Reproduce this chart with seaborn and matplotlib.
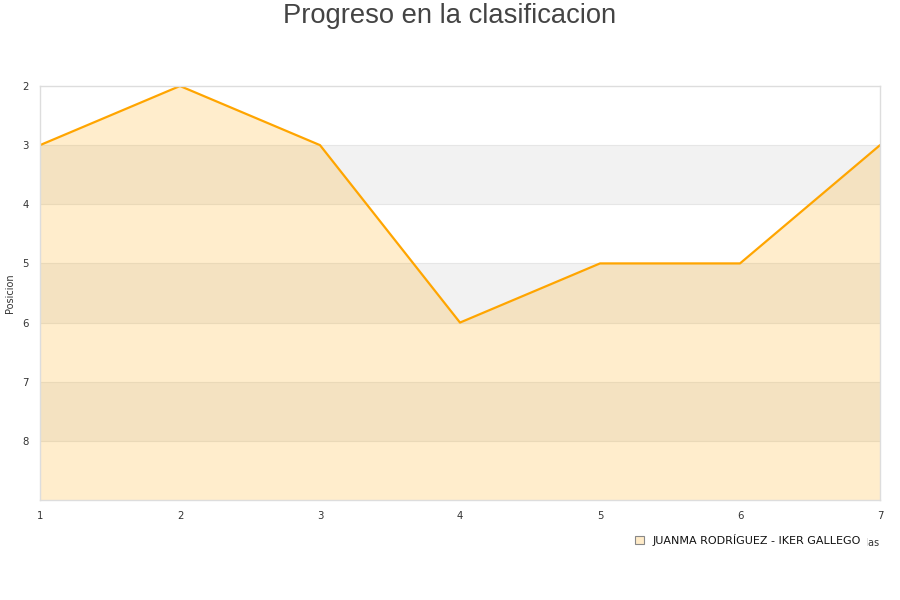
import matplotlib
matplotlib.use("Agg")
import matplotlib.pyplot as plt
import seaborn as sns
import pandas as pd
from matplotlib.patches import Patch

title = "Progreso en la clasificacion"
team = "JUANMA RODRÍGUEZ - IKER GALLEGO"
x_label = "Jornadas"
y_label = "Posicion"
jornadas = [1, 2, 3, 4, 5, 6, 7]
posiciones = [3, 2, 3, 6, 5, 5, 3]
y_ticks = [2, 3, 4, 5, 6, 7, 8]
y_min, y_max = 2, 9

df = pd.DataFrame({"Jornada": jornadas, "Posicion": posiciones})

sns.set_theme(style="white")
plt.rcParams['font.family'] = ['DejaVu Sans']

fig = plt.figure(figsize=(9, 6), dpi=100)
ax = fig.add_axes([40/900, 1-500/600, 840/900, 414/600])

# alternating bands
for lo in range(y_min, y_max):
    if (lo - y_min) % 2 == 1:
        ax.axhspan(lo, lo + 1, color="#F2F2F2", zorder=0, lw=0)
for v in range(y_min + 1, y_max):
    ax.axhline(v, color="#E6E6E6", lw=0.8, zorder=0.5)

ax.fill_between(df["Jornada"], df["Posicion"], y_max, color="#FFA500", alpha=0.2, lw=0, zorder=1)
sns.lineplot(data=df, x="Jornada", y="Posicion", ax=ax, color="#FFA500", lw=1.6, zorder=2)

ax.set_xlim(1, 7)
ax.set_ylim(y_max, y_min)
ax.set_xticks(jornadas)
ax.set_yticks(y_ticks)
ax.tick_params(axis="both", labelsize=7.3, colors="#333333", length=0, pad=8)
for s in ax.spines.values():
    s.set_color("#DDDDDD")
    s.set_linewidth(1)

ax.set_ylabel(y_label, fontsize=7, color="#333333", labelpad=5)
ax.set_xlabel(x_label, fontsize=7, color="#333333", loc="right", labelpad=12)

fig.text(0.5, 1-16/600, title, fontsize=19.7, color="#444444", ha="center", va="center",
         family=["Liberation Sans", "DejaVu Sans"])

handle = Patch(facecolor="#FFEBC8", edgecolor="#888888", lw=0.8)
leg = fig.legend([handle], [team], loc="center", bbox_to_anchor=(748/900, 1-540/600),
                 frameon=True, fontsize=8, handlelength=0.8, handleheight=0.8,
                 handletextpad=0.8, borderpad=0.4, borderaxespad=0)
leg.get_frame().set_facecolor("white")
leg.get_frame().set_edgecolor("white")
leg.get_frame().set_alpha(1)
leg.set_zorder(10)
for t in leg.get_texts():
    t.set_color("#111111")

fig.savefig("out.png", dpi=100)
